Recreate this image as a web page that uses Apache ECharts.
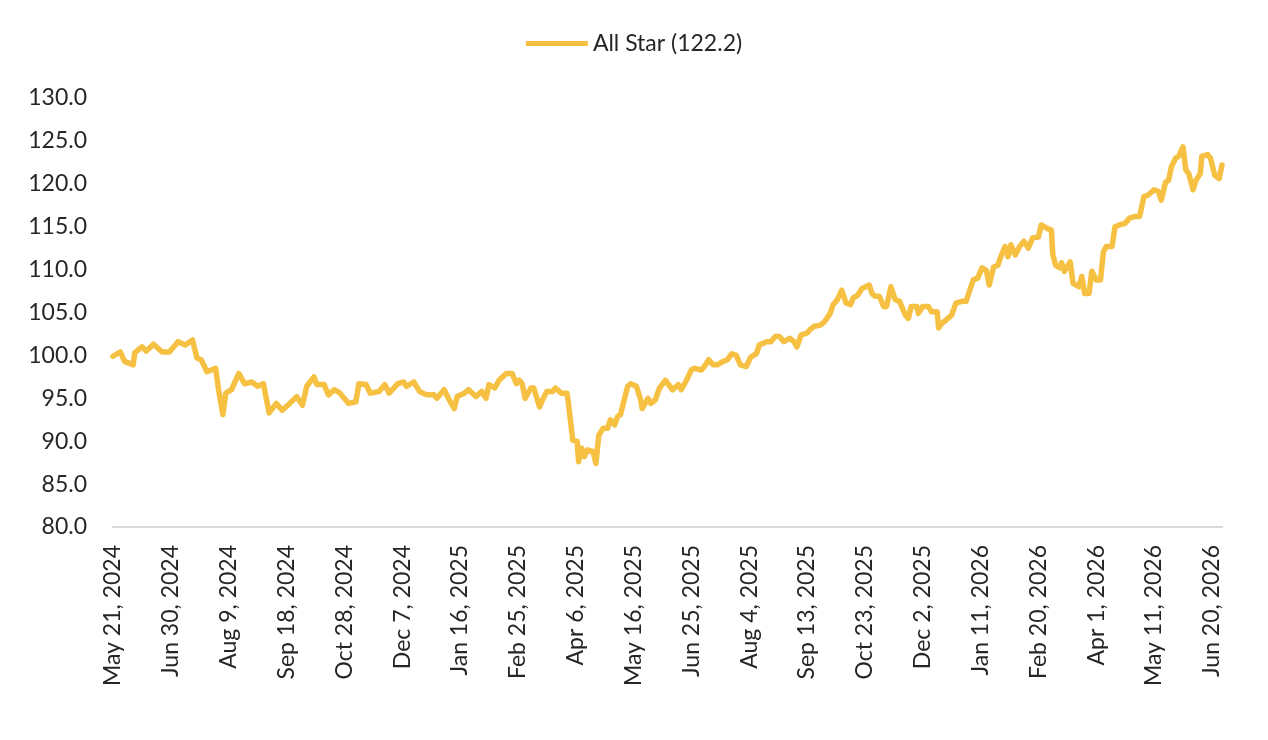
<!DOCTYPE html>
<html>
<head>
<meta charset="utf-8">
<script src="https://cdn.jsdelivr.net/npm/echarts@6/dist/echarts.min.js"></script>
<style>
html,body{margin:0;padding:0;background:#fff;}
#chart{width:1268px;height:740px;}
</style>
</head>
<body>
<div id="chart"></div>
<script>
// Days elapsed since the first date (May 21, 2024)
const startDate = '2024-05-21';
const dayOffsets = [0,5,8,14,15,20,23,28,34,39,45,50,55,58,61,65,71,73,76,78,82,87,91,96,100,104,108,113,117,121,
127,131,134,139,141,146,149,153,157,163,168,170,175,178,184,188,191,197,201,203,208,212,217,222,224,229,232,236,238,243,
246,251,255,258,260,264,267,272,276,279,281,283,285,289,291,295,297,300,304,306,310,314,315,318,321,322,324,326,328,332,
334,336,339,342,344,347,349,351,352,356,358,362,365,366,370,372,375,378,382,387,391,393,396,400,402,407,409,412,415,418,
422,425,428,431,434,438,441,445,447,452,455,458,461,464,468,471,473,476,480,482,485,489,492,496,498,501,504,507,510,512,
515,518,523,525,527,530,533,535,538,541,544,548,550,552,556,557,560,564,566,570,571,573,576,580,583,587,590,593,595,598,
601,604,606,609,612,614,617,619,621,624,627,630,633,636,640,642,646,649,650,652,655,656,658,662,664,668,670,672,675,677,
680,683,685,687,691,693,696,700,703,707,710,713,716,720,723,725,728,730,732,735,737,740,742,744,747,749,752,753,757,759,
762,765,767];
const values = [99.9,100.4,99.3,98.9,100.3,101.0,100.5,101.3,100.4,100.4,101.6,101.2,101.8,99.7,99.5,98.1,98.5,96.0,93.1,95.6,
96.0,97.9,96.7,96.9,96.4,96.7,93.3,94.4,93.6,94.2,
95.2,94.2,96.4,97.5,96.6,96.6,95.4,96.0,95.6,94.4,94.6,96.7,96.6,95.6,95.8,96.6,95.6,96.7,96.9,96.4,
96.9,95.8,95.4,95.4,95.0,96.0,95.0,93.8,95.2,95.6,
96.0,95.2,95.8,95.0,96.6,96.2,97.1,97.9,97.9,96.7,97.1,96.7,95.0,96.2,96.2,94.0,94.8,95.8,95.8,96.2,
95.6,95.6,94.4,90.1,90.0,87.6,89.2,88.2,89.0,88.8,
87.4,90.7,91.5,91.5,92.5,91.9,92.9,93.1,93.8,96.4,96.7,96.4,94.8,93.8,95.0,94.4,94.8,96.2,97.1,96.0,
96.6,96.0,96.9,98.3,98.5,98.3,98.7,99.5,98.9,98.9,
99.3,99.5,100.2,100.0,98.9,98.7,99.8,100.2,101.2,101.6,101.6,102.2,102.2,101.6,102.0,101.6,101.0,102.4,102.6,103.0,
103.4,103.5,103.9,104.9,105.9,106.5,107.6,106.1,105.9,106.7,
107.0,107.8,108.2,107.2,106.9,106.9,105.7,105.7,108.0,106.5,106.3,104.7,104.3,105.7,105.7,104.9,105.7,105.7,105.1,105.1,
103.2,103.7,104.1,104.7,106.1,106.3,106.3,107.8,108.8,109.0,
110.2,109.9,108.2,110.3,110.5,111.5,112.7,111.5,112.9,111.7,112.7,113.3,112.5,113.7,113.8,115.2,114.8,114.6,111.7,110.5,
110.2,110.8,109.8,110.9,108.4,108.0,109.2,107.2,107.2,109.8,
108.8,108.8,112.1,112.7,112.7,115.0,115.2,115.4,116.0,116.2,116.2,118.5,118.7,119.3,119.1,118.1,120.2,120.4,122.0,123.0,
123.2,124.3,121.6,121.2,119.3,120.4,121.2,123.2,123.4,123.0,
121.0,120.6,122.2];
const tickLabels = ['May 21, 2024','Jun 30, 2024','Aug 9, 2024','Sep 18, 2024','Oct 28, 2024','Dec 7, 2024',
'Jan 16, 2025','Feb 25, 2025','Apr 6, 2025','May 16, 2025','Jun 25, 2025','Aug 4, 2025','Sep 13, 2025',
'Oct 23, 2025','Dec 2, 2025','Jan 11, 2026','Feb 20, 2026','Apr 1, 2026','May 11, 2026','Jun 20, 2026'];
const seriesName = 'All Star (122.2)';
const tickStepDays = 40;

const FONT = 'Lato, "Open Sans", sans-serif';
const TEXT = '#262626';
const LINE = '#F6C143';

const chart = echarts.init(document.getElementById('chart'), null, {renderer: 'canvas'});
const data = dayOffsets.map((d, i) => [d, values[i]]);

chart.setOption({
  animation: false,
  backgroundColor: '#ffffff',
  textStyle: {fontFamily: FONT},
  legend: {
    left: 'center',
    top: 27,
    icon: 'rect',
    itemWidth: 62,
    itemHeight: 5,
    itemGap: 10,
    textStyle: {fontFamily: FONT, fontSize: 23, color: TEXT},
    data: [seriesName]
  },
  grid: {
    left: 113, right: 46, top: 98, bottom: 213,
    containLabel: false
  },
  xAxis: {
    type: 'value',
    min: 0,
    max: dayOffsets[dayOffsets.length - 1],
    interval: tickStepDays,
    splitLine: {show: false},
    axisTick: {show: false},
    axisLine: {show: true, onZero: false, lineStyle: {color: '#D9D9D9', width: 2}},
    axisLabel: {
      rotate: 90,
      margin: 18,
      fontFamily: FONT,
      fontSize: 23,
      color: TEXT,
      showMaxLabel: false,
      formatter: function (v) {
        if (v % tickStepDays !== 0) return '';
        return tickLabels[v / tickStepDays] || '';
      }
    }
  },
  yAxis: {
    type: 'value',
    min: 80,
    max: 130,
    interval: 5,
    splitLine: {show: false},
    axisTick: {show: false},
    axisLine: {show: false},
    axisLabel: {
      margin: 26,
      fontFamily: FONT,
      fontSize: 23,
      color: TEXT,
      formatter: v => v.toFixed(1)
    }
  },
  series: [{
    name: seriesName,
    type: 'line',
    data: data,
    showSymbol: false,
    symbol: 'none',
    color: LINE,
    lineStyle: {color: LINE, width: 5.5, join: 'round', cap: 'round'}
  }]
});
</script>
</body>
</html>
